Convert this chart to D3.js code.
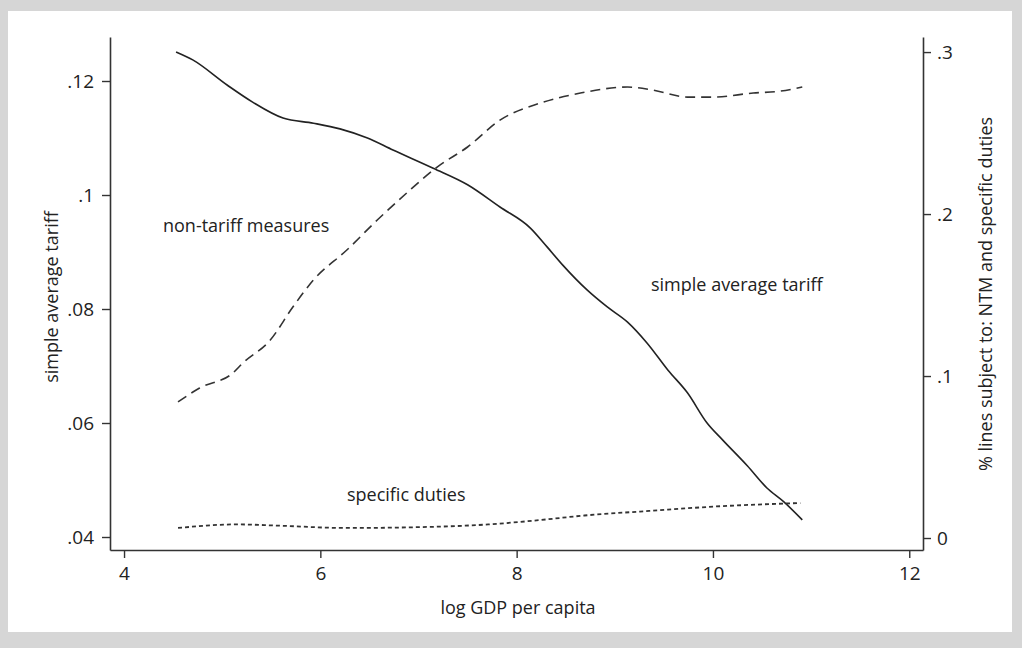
<!DOCTYPE html>
<html>
<head>
<meta charset="utf-8">
<script src="https://cdn.jsdelivr.net/npm/d3@7"></script>
<style>
  body { margin: 0; background: #fff; }
  text { font-family: "Open Sans", "Noto Sans", sans-serif; fill: #222; }
</style>
</head>
<body>
<div id="chart"></div>
<script>
// log GDP per capita vs. simple average tariff (left) and share of lines (right)
const tariffX = [4.53, 4.70, 5.05, 5.31, 5.62, 5.93, 6.20, 6.48, 6.74, 7.15, 7.50, 7.83, 8.14, 8.31, 8.47, 8.72, 8.92, 9.13, 9.33, 9.54, 9.74, 9.94, 10.10, 10.35, 10.55, 10.72, 10.91];
const tariffY = [.1251, .1237, .1193, .1163, .1135, .1126, .1116, .1100, .1079, .1047, .1018, .0979, .0942, .0909, .0877, .0833, .0804, .0777, .0740, .0693, .0653, .0600, .0570, .0525, .0486, .0462, .0430];

const ntmX = [4.55, 4.77, 5.11, 5.21, 5.49, 5.72, 5.93, 6.27, 6.58, 6.88, 7.19, 7.50, 7.83, 8.24, 8.65, 9.13, 9.39, 9.74, 10.00, 10.41, 10.69, 10.91];
const ntmY = [.084, .0926, .1019, .108, .1222, .1426, .1593, .1778, .1963, .213, .229, .2414, .258, .2685, .2747, .2784, .2765, .2722, .2722, .2747, .2759, .2784];

const specX = [4.55, 5.15, 5.55, 6.25, 6.92, 7.71, 8.24, 8.69, 9.35, 10.01, 10.89];
const specY = [.0062, .0084, .0077, .0062, .0066, .0084, .0111, .0139, .0167, .0194, .0216];

const xTicks = [4, 6, 8, 10, 12];
const leftTicks = [.04, .06, .08, .1, .12];
const rightTicks = [0, .1, .2, .3];

const width = 1022, height = 648;
const plot = { left: 110, right: 923, top: 37, bottom: 550 };

const svg = d3.select("#chart").append("svg")
    .attr("width", width)
    .attr("height", height);

// scanned page frame
svg.append("rect").attr("width", width).attr("height", height).attr("fill", "#d6d6d6");
svg.append("rect").attr("x", 8).attr("y", 11).attr("width", 1004).attr("height", 621).attr("fill", "#fff");

const x = d3.scaleLinear().domain([3.857, 12.14]).range([plot.left, plot.right]);
const yL = d3.scaleLinear().domain([.03772, .12772]).range([plot.bottom, plot.top]);
const yR = d3.scaleLinear().domain([-.0074, .3093]).range([plot.bottom, plot.top]);

const fmt = d => d === 0 ? "0" : String(+d.toFixed(2)).replace(/^0/, "");

const styleAxis = g => {
    g.select(".domain").attr("stroke", "#333").attr("stroke-width", 1.6);
    g.selectAll(".tick line").attr("stroke", "#333").attr("stroke-width", 1.4);
    g.selectAll(".tick text").attr("font-size", 19).attr("fill", "#222")
        .attr("font-family", "'Open Sans', sans-serif");
};

svg.append("g")
    .attr("transform", `translate(0,${plot.bottom})`)
    .call(d3.axisBottom(x).tickValues(xTicks).tickSize(8).tickPadding(9).tickSizeOuter(0))
    .call(styleAxis);

svg.append("g")
    .attr("transform", `translate(${plot.left},0)`)
    .call(d3.axisLeft(yL).tickValues(leftTicks).tickFormat(fmt).tickSize(8).tickPadding(8).tickSizeOuter(0))
    .call(styleAxis);

svg.append("g")
    .attr("transform", `translate(${plot.right},0)`)
    .call(d3.axisRight(yR).tickValues(rightTicks).tickFormat(fmt).tickSize(8).tickPadding(6).tickSizeOuter(0))
    .call(styleAxis);

// lines
const lineL = d3.line().x(d => x(d[0])).y(d => yL(d[1])).curve(d3.curveMonotoneX);
const lineR = d3.line().x(d => x(d[0])).y(d => yR(d[1])).curve(d3.curveMonotoneX);

svg.append("path")
    .datum(d3.zip(tariffX, tariffY))
    .attr("fill", "none").attr("stroke", "#222").attr("stroke-width", 1.6)
    .attr("d", lineL);

svg.append("path")
    .datum(d3.zip(ntmX, ntmY))
    .attr("fill", "none").attr("stroke", "#333").attr("stroke-width", 1.6)
    .attr("stroke-dasharray", "10,6")
    .attr("d", lineR);

svg.append("path")
    .datum(d3.zip(specX, specY))
    .attr("fill", "none").attr("stroke", "#333").attr("stroke-width", 1.8)
    .attr("stroke-dasharray", "4,3")
    .attr("d", lineR);

// line labels
const labels = [
    { text: "non-tariff measures", x: 163, y: 232 },
    { text: "simple average tariff", x: 651, y: 291 },
    { text: "specific duties", x: 347, y: 501 }
];
svg.append("g")
    .selectAll("text")
    .data(labels)
    .join("text")
    .attr("x", d => d.x)
    .attr("y", d => d.y)
    .attr("font-size", 18)
    .text(d => d.text);

// axis titles
svg.append("text")
    .attr("x", 518)
    .attr("y", 614)
    .attr("text-anchor", "middle")
    .attr("font-size", 18)
    .text("log GDP per capita");

svg.append("text")
    .attr("transform", "translate(58,297) rotate(-90)")
    .attr("text-anchor", "middle")
    .attr("font-size", 18)
    .text("simple average tariff");

svg.append("text")
    .attr("transform", "translate(992,294) rotate(-90)")
    .attr("text-anchor", "middle")
    .attr("font-size", 18)
    .text("% lines subject to: NTM and specific duties");
</script>
</body>
</html>
